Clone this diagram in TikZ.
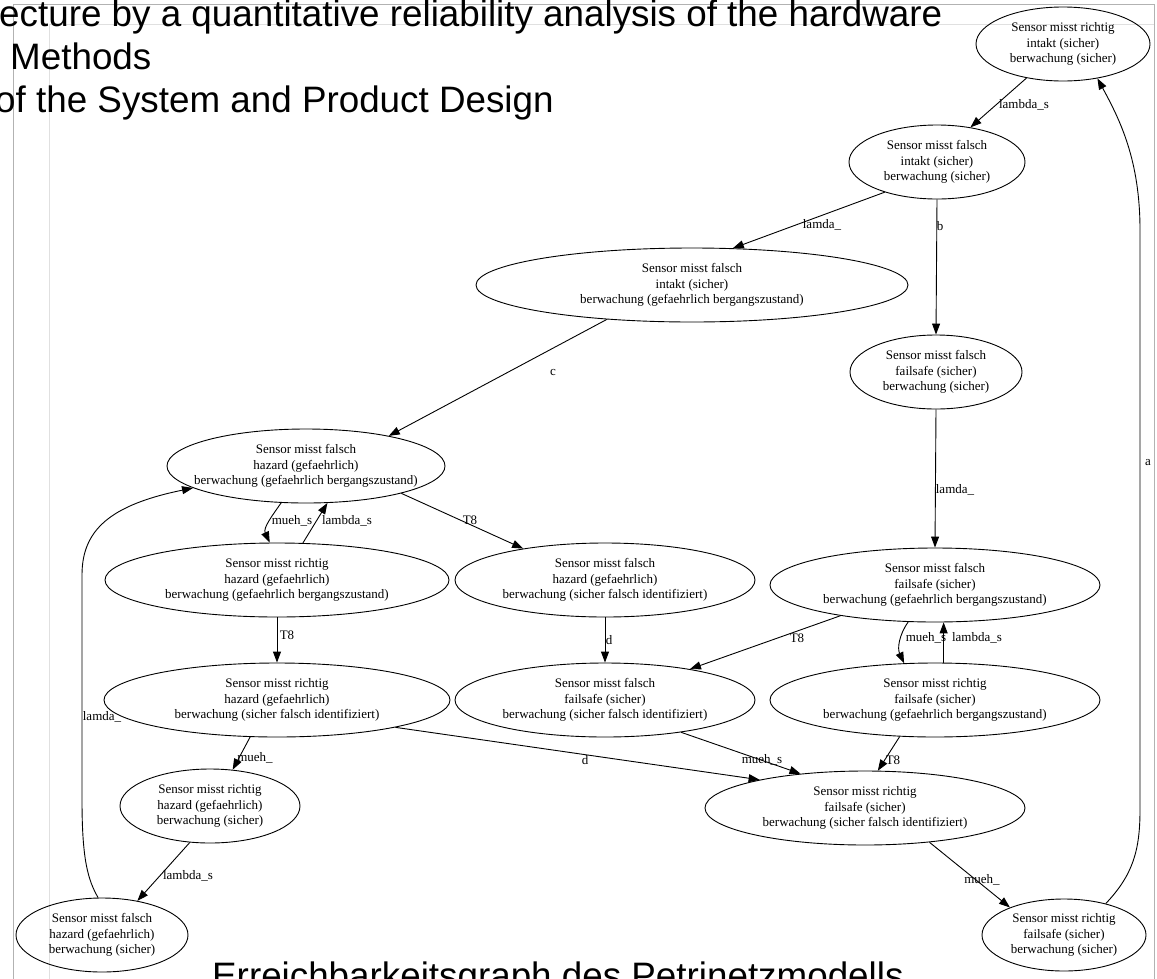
\documentclass[tikz,border=0pt]{standalone}
\usepackage{fontspec}
\setmainfont{Liberation Serif}
\newfontfamily\headfont{Liberation Sans}
\usetikzlibrary{shapes.geometric,arrows.meta}

\tikzset{
  state/.style={ellipse, draw, line width=0.9pt, inner xsep=-30pt, inner ysep=-8pt,
    align=center, minimum height=74pt, font=\fontsize{13}{15.5}\selectfont},
  tr/.style={draw, line width=0.9pt, -{Triangle[length=11pt,width=8pt]}},
  lbl/.style={font=\fontsize{13}{15.5}\selectfont, inner sep=0pt},
  heading/.style={font=\headfont\fontsize{36.8}{43}\selectfont, inner sep=0pt, anchor=base west},
  outerframe/.style={draw=black!30, line width=0.8pt},
  innerframe/.style={draw=black!12, line width=0.8pt},
}

\begin{document}
\begin{tikzpicture}[x=1pt,y=-1pt]
\useasboundingbox (0,0) rectangle (1157,978);

% slide frame
\draw[outerframe] (13,990) -- (13,4) -- (1154,4) -- (1154,990);
\draw[innerframe] (49,990) -- (49,24) -- (1154,24);

% headings
\node[heading] (t1) at (-1,26) {ecture by a quantitative reliability analysis of the hardware};
\node[heading] (t2) at (10,69) {Methods};
\node[heading] (t3) at (-5,112) {of the System and Product Design};
\node[heading] (cap) at (212,988) {Erreichbarkeitsgraph des Petrinetzmodells};

% states
\node[state, minimum width=174pt] (A) at (1063,44) {Sensor misst richtig\\intakt (sicher)\\berwachung (sicher)};
\node[state, minimum width=176pt] (B) at (937,162) {Sensor misst falsch\\intakt (sicher)\\berwachung (sicher)};
\node[state, minimum width=432pt] (C) at (692,285) {Sensor misst falsch\\intakt (sicher)\\berwachung (gefaehrlich bergangszustand)};
\node[state, minimum width=172pt] (D) at (936,372) {Sensor misst falsch\\failsafe (sicher)\\berwachung (sicher)};
\node[state, minimum width=278pt] (E) at (306,466) {Sensor misst falsch\\hazard (gefaehrlich)\\berwachung (gefaehrlich bergangszustand)};
\node[state, minimum width=344pt] (F) at (277,580) {Sensor misst richtig\\hazard (gefaehrlich)\\berwachung (gefaehrlich bergangszustand)};
\node[state, minimum width=300pt] (G) at (605,580) {Sensor misst falsch\\hazard (gefaehrlich)\\berwachung (sicher falsch identifiziert)};
\node[state, minimum width=330pt] (H) at (935,585) {Sensor misst falsch\\failsafe (sicher)\\berwachung (gefaehrlich bergangszustand)};
\node[state, minimum width=346pt] (I) at (277,700) {Sensor misst richtig\\hazard (gefaehrlich)\\berwachung (sicher falsch identifiziert)};
\node[state, minimum width=300pt] (J) at (605,700) {Sensor misst falsch\\failsafe (sicher)\\berwachung (sicher falsch identifiziert)};
\node[state, minimum width=330pt] (K) at (935,700) {Sensor misst richtig\\failsafe (sicher)\\berwachung (gefaehrlich bergangszustand)};
\node[state, minimum width=180pt] (L) at (210,806) {Sensor misst richtig\\hazard (gefaehrlich)\\berwachung (sicher)};
\node[state, minimum width=320pt] (M) at (865,808) {Sensor misst richtig\\failsafe (sicher)\\berwachung (sicher falsch identifiziert)};
\node[state, minimum width=172pt] (N) at (102,935) {Sensor misst falsch\\hazard (gefaehrlich)\\berwachung (sicher)};
\node[state, minimum width=164pt, minimum height=72pt] (O) at (1064,935) {Sensor misst richtig\\failsafe (sicher)\\berwachung (sicher)};

% transitions
\draw[tr] (A.223) -- (B.46) node[lbl] at (1024,105) {lambda\_s};
\draw[tr] (B.210) -- (C.42) node[lbl] at (822,225) {lamda\_};
\draw[tr] (B.south) -- (D.north) node[lbl] at (940,226) {b};
\draw[tr] (C.202) -- (E.20) node[lbl] at (553,372) {c};
\draw[tr] (D.south) -- (H.north) node[lbl] at (955,490) {lamda\_};
\draw[tr] (E.236) to[out=235,in=115] (F.101) node[lbl] at (292,521) {mueh\_s};
\draw[tr] (F.55) -- (E.300) node[lbl] at (347,521) {lambda\_s};
\draw[tr] (E.344) -- (G.159) node[lbl] at (470,520) {T8};
\draw[tr] (F.south) -- (I.north) node[lbl] at (287,635) {T8};
\draw[tr] (G.south) -- (J.north) node[lbl] at (609,640) {d};
\draw[tr] (H.198) -- (J.20) node[lbl] at (797,638) {T8};
\draw[tr] (H.234) to[out=235,in=115] (K.130) node[lbl] at (926,638) {mueh\_s};
\draw[tr] (K.77) -- (H.283) node[lbl] at (977,638) {lambda\_s};
\draw[tr] (I.234) -- (L.58) node[lbl] at (255,758) {mueh\_};
\draw[tr] (I.347) -- (M.165) node[lbl] at (585,760) {d};
\draw[tr] (J.337) -- (M.152) node[lbl] at (762,760) {mueh\_s};
\draw[tr] (K.226) -- (M.71) node[lbl] at (893,760) {T8};
\draw[tr] (L.241) -- (N.44) node[lbl] at (188,876) {lambda\_s};
\draw[tr] (N.96) .. controls (88,880) and (82,860) .. (82,800) -- (82,575)
  .. controls (82,530) and (110,505) .. (E.191) node[lbl] at (102,717) {lamda\_};
\draw[tr] (M.332) -- (O.153) node[lbl] at (982,880) {mueh\_};
\draw[tr] (O.37) .. controls (1133,875) and (1140,850) .. (1140,810) -- (1140,230)
  .. controls (1140,160) and (1120,120) .. (A.315) node[lbl] at (1148,463) {a};
\end{tikzpicture}
\end{document}
